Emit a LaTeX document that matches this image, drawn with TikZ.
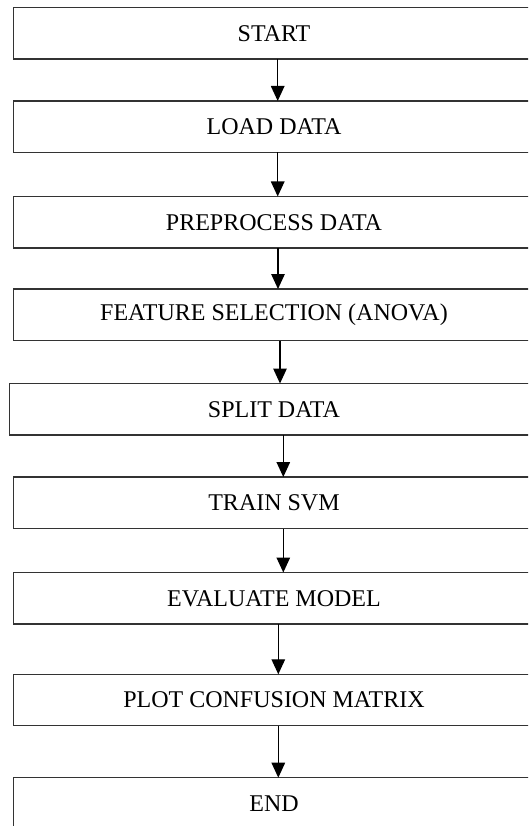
\documentclass[tikz,border=0pt]{standalone}
\usepackage{fontspec}
\setmainfont{Liberation Serif}
\usetikzlibrary{arrows.meta}

\tikzset{
  stepbox/.style={draw=black!80, line width=1.1pt, rectangle, outer sep=0pt,
    anchor=north west, minimum width=521.4pt, minimum height=51.5pt,
    inner sep=0pt, font=\fontsize{24}{28}\selectfont},
  flow/.style={draw=black, line width=1.3pt,
    -{Triangle[length=15pt, width=13.5pt]}}
}

\begin{document}
\begin{tikzpicture}[x=1pt, y=-1pt]
  \useasboundingbox (0,0) rectangle (528,826);
  \clip (0,0) rectangle (528,826);

  % process steps, top to bottom
  \node[stepbox] (start) at (13.3,7.5)   {START};
  \node[stepbox] (load)  at (13.3,101)   {LOAD DATA};
  \node[stepbox] (prep)  at (13.3,196.5) {PREPROCESS DATA};
  \node[stepbox] (feat)  at (13.3,289)   {FEATURE SELECTION (ANOVA)};
  \node[stepbox, minimum width=529pt] (split) at (9.5,383.5) {SPLIT DATA};
  \node[stepbox] (train) at (13.3,477)   {TRAIN SVM};
  \node[stepbox] (eval)  at (13.3,572.5) {EVALUATE MODEL};
  \node[stepbox] (plot)  at (13.3,674.3) {PLOT CONFUSION MATRIX};
  \node[stepbox, minimum height=103pt] (end) at (13.3,777.7) {};
  \node[font=\fontsize{24}{28}\selectfont] (endlabel) at (274,803.5) {END};

  % connectors, kept vertical
  \draw[flow] ([xshift=3.7pt]start.south) -- ([xshift=3.7pt]start.south |- load.north);
  \draw[flow] ([xshift=3.7pt]load.south)  -- ([xshift=3.7pt]load.south |- prep.north);
  \draw[flow] ([xshift=4pt]prep.south)    -- ([xshift=4pt]prep.south |- feat.north);
  \draw[flow] ([xshift=6pt]feat.south)    -- ([xshift=6pt]feat.south |- split.north);
  \draw[flow] ([xshift=9.3pt]split.south) -- ([xshift=9.3pt]split.south |- train.north);
  \draw[flow] ([xshift=9.3pt]train.south) -- ([xshift=9.3pt]train.south |- eval.north);
  \draw[flow] ([xshift=4.3pt]eval.south)  -- ([xshift=4.3pt]eval.south |- plot.north);
  \draw[flow] ([xshift=4.3pt]plot.south)  -- ([xshift=4.3pt]plot.south |- end.north);
\end{tikzpicture}
\end{document}
